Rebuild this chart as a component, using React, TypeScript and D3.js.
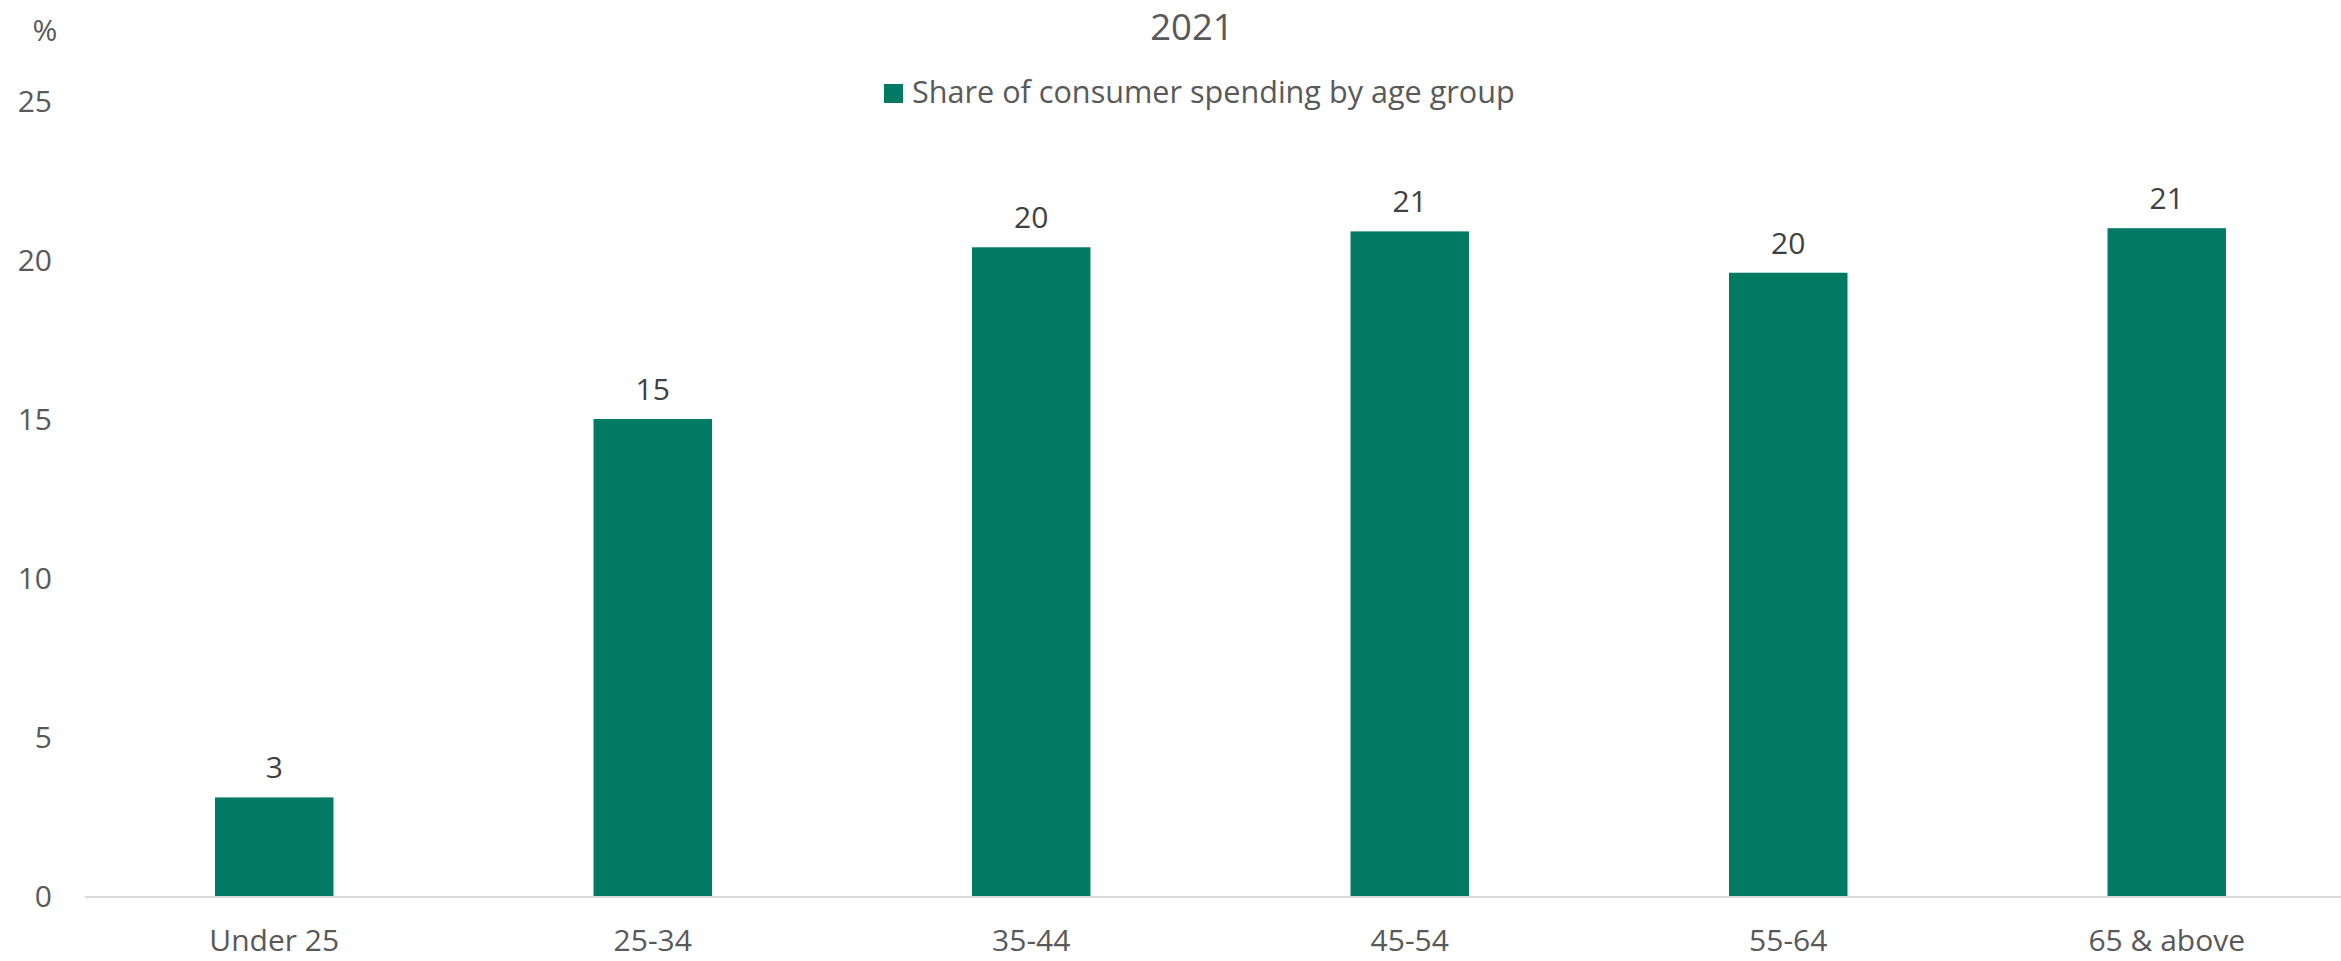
import React from "react";
import * as d3 from "d3";

const categories: string[] = ["Under 25", "25-34", "35-44", "45-54", "55-64", "65 & above"];
const shareValues: number[] = [3.1, 15.0, 20.4, 20.9, 19.6, 21.0];
const yTicks: number[] = [0, 5, 10, 15, 20, 25];
const titleText = "2021";
const seriesName = "Share of consumer spending by age group";
const unitLabel = "%";

const W = 2341;
const H = 961;
const FONT = "'Open Sans', 'Noto Sans', sans-serif";
const BAR_COLOR = "#007A62";
const AXIS_TEXT = "#595959";
const LABEL_TEXT = "#404040";

export default function App() {
  const x = d3
    .scaleBand<string>()
    .domain(categories)
    .range([85, 2356])
    .paddingInner(0.687)
    .paddingOuter(0.3435);
  const y = d3.scaleLinear().domain([0, 25]).range([896, 101]);
  const fmt = d3.format(".0f");

  return (
    <svg
      width={W}
      height={H}
      viewBox={`0 0 ${W} ${H}`}
      style={{ position: "absolute", left: 0, top: 0, background: "#fff" }}
    >
      <rect x={0} y={0} width={W} height={H} fill="#fff" />
      {/* title */}
      <text x={1192} y={40} textAnchor="middle" fontFamily={FONT} fontSize={36.5} fill={AXIS_TEXT}>
        {titleText}
      </text>
      {/* unit */}
      <text x={45} y={41} textAnchor="middle" fontFamily={FONT} fontSize={30} fill={AXIS_TEXT}>
        {unitLabel}
      </text>
      {/* legend */}
      <rect x={884} y={84} width={19} height={19} fill={BAR_COLOR} />
      <text x={912} y={103} fontFamily={FONT} fontSize={30.6} fill={AXIS_TEXT}>
        {seriesName}
      </text>
      {/* y tick labels */}
      {yTicks.map((t) => (
        <text
          key={t}
          x={52}
          y={y(t) + 11}
          textAnchor="end"
          fontFamily={FONT}
          fontSize={30}
          fill={AXIS_TEXT}
        >
          {t}
        </text>
      ))}
      {/* bars */}
      {categories.map((c, i) => {
        const v = shareValues[i];
        const bx = x(c) as number;
        const bw = x.bandwidth();
        return (
          <g key={c}>
            <rect x={bx} y={y(v)} width={bw} height={y(0) - y(v)} fill={BAR_COLOR} />
            <text
              x={bx + bw / 2}
              y={y(v) - 19}
              textAnchor="middle"
              fontFamily={FONT}
              fontSize={30}
              fill={LABEL_TEXT}
            >
              {fmt(v)}
            </text>
            <text
              x={bx + bw / 2}
              y={951}
              textAnchor="middle"
              fontFamily={FONT}
              fontSize={30}
              fill={AXIS_TEXT}
            >
              {c}
            </text>
          </g>
        );
      })}
      {/* x axis line */}
      <line x1={85} x2={W} y1={897} y2={897} stroke="#d9d9d9" strokeWidth={2} />
    </svg>
  );
}
